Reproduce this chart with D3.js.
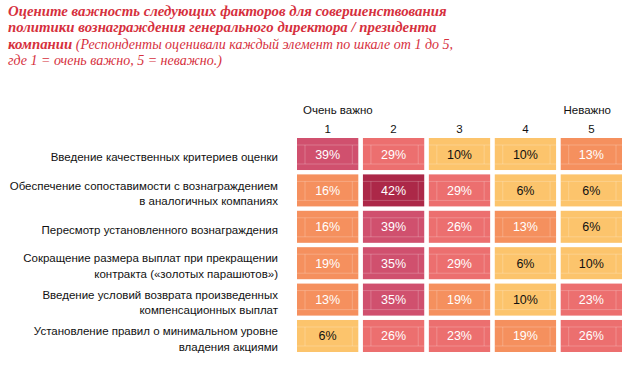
<!DOCTYPE html>
<html>
<head>
<meta charset="utf-8">
<script src="https://cdn.jsdelivr.net/npm/d3@7"></script>
<style>
  body { margin: 0; background: #fff; }
  svg { display: block; }
</style>
</head>
<body>
<svg width="635" height="365"></svg>
<script>
const factors = [
  ["Введение качественных критериев оценки"],
  ["Обеспечение сопоставимости с вознаграждением", "в аналогичных компаниях"],
  ["Пересмотр установленного вознаграждения"],
  ["Сокращение размера выплат при прекращении", "контракта («золотых парашютов»)"],
  ["Введение условий возврата произведенных", "компенсационных выплат"],
  ["Установление правил о минимальном уровне", "владения акциями"]
];
const scores = [1, 2, 3, 4, 5];
const values = [
  [39, 29, 10, 10, 13],
  [16, 42, 29, 6, 6],
  [16, 39, 26, 13, 6],
  [19, 35, 29, 6, 10],
  [13, 35, 19, 10, 23],
  [6, 26, 23, 19, 26]
];
const colorSteps = [11, 21, 33, 40];
const colorRange = ["#fcc46c", "#f5905e", "#ec6f6f", "#d0506e", "#ac2848"];

const svg = d3.select("svg");
const red = "#d6303d";

// title
const title = svg.append("text")
  .attr("font-family", "Liberation Serif, serif")
  .attr("font-style", "italic")
  .attr("fill", red);
const titleLines = [
  [["Оцените важность следующих факторов для совершенствования", "bold"]],
  [["политики вознаграждения генерального директора / президента", "bold"]],
  [["компании", "bold"], [" (Респонденты оценивали каждый элемент по шкале от 1 до 5,", "normal"]],
  [["где 1 = очень важно, 5 = неважно.)", "normal"]]
];
titleLines.forEach((parts, i) => {
  parts.forEach((p, j) => {
    const t = title.append("tspan")
      .attr("font-weight", p[1])
      .attr("font-size", p[1] === "bold" ? 14.8 : 14)
      .text(p[0]);
    if (j === 0) t.attr("x", 8).attr("y", 16 + i * 16.4);
  });
});

const x = d3.scaleBand().domain(scores).range([297, 622]).paddingInner(0.07);
const y = d3.scaleBand().domain(d3.range(factors.length)).range([138, 352]).paddingInner(0.12);
const color = d3.scaleThreshold().domain(colorSteps).range(colorRange);

const sans = "Helvetica, Liberation Sans, Arial, sans-serif";

// header
svg.append("text").attr("x", 303).attr("y", 114)
  .attr("font-family", sans).attr("font-size", 11.5).attr("fill", "#111")
  .text("Очень важно");
svg.append("text").attr("x", 611).attr("y", 114).attr("text-anchor", "end")
  .attr("font-family", sans).attr("font-size", 11.5).attr("fill", "#111")
  .text("Неважно");
svg.append("g").selectAll("text")
  .data(scores)
  .join("text")
  .attr("x", d => x(d) + x.bandwidth() / 2)
  .attr("y", 133)
  .attr("text-anchor", "middle")
  .attr("font-family", sans).attr("font-size", 11.5).attr("fill", "#111")
  .text(d => d);

// row labels
const labels = svg.append("g").selectAll("text")
  .data(factors)
  .join("text")
  .attr("text-anchor", "end")
  .attr("font-family", sans).attr("font-size", 11.5).attr("fill", "#111");
labels.each(function (lines, i) {
  const cy = y(i) + y.bandwidth() / 2 + 3;
  const start = cy - (lines.length - 1) * 15.5 / 2;
  d3.select(this).selectAll("tspan")
    .data(lines)
    .join("tspan")
    .attr("x", 278)
    .attr("y", (d, k) => start + k * 15.5)
    .attr("dy", "0.35em")
    .text(d => d);
});

// cells
const cells = [];
values.forEach((row, i) => row.forEach((v, j) => cells.push({ row: i, col: scores[j], v })));

const g = svg.append("g").selectAll("g")
  .data(cells)
  .join("g")
  .attr("transform", d => `translate(${x(d.col)},${y(d.row)})`);

g.append("rect")
  .attr("width", x.bandwidth())
  .attr("height", y.bandwidth())
  .attr("fill", d => color(d.v));

const w = x.bandwidth(), h = y.bandwidth();
g.append("path")
  .attr("d", `M0,7H${w}M0,${h - 6}H${w}M8,7V${h - 6}M${w - 6},7V${h - 6}`)
  .attr("stroke", "#fff")
  .attr("stroke-opacity", 0.22)
  .attr("stroke-width", 1)
  .attr("fill", "none");

g.append("text")
  .attr("x", w / 2)
  .attr("y", h / 2)
  .attr("dy", "0.36em")
  .attr("text-anchor", "middle")
  .attr("font-family", sans)
  .attr("font-size", 12.5)
  .attr("fill", d => d.v < 11 ? "#111" : "#fff")
  .text(d => d.v + "%");
</script>
</body>
</html>
